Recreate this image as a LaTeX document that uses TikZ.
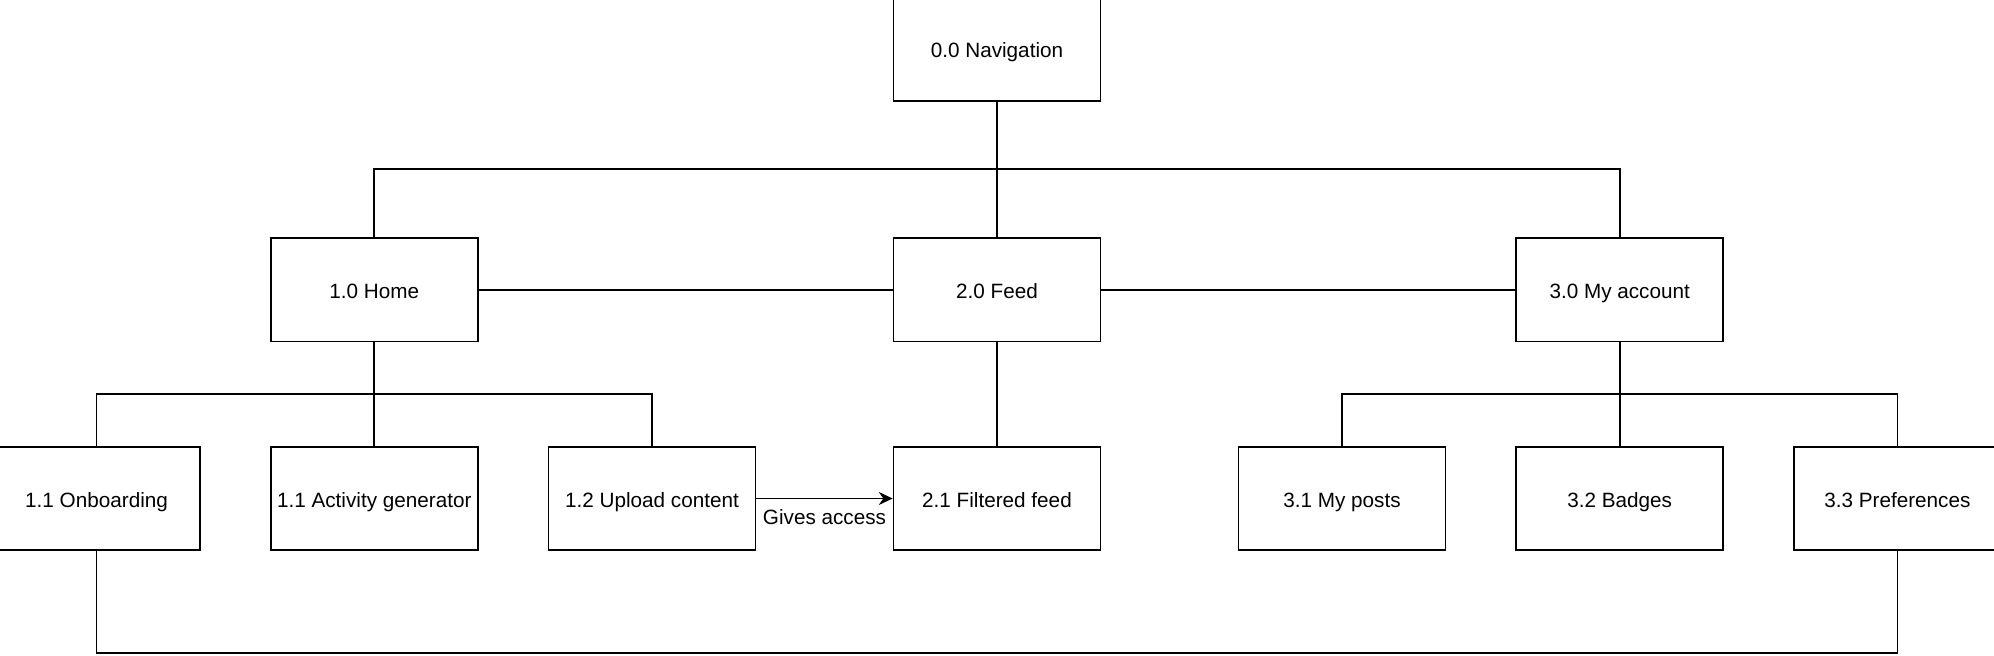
\documentclass[tikz,border=0pt]{standalone}
\usepackage{fontspec}
\setmainfont{Liberation Sans}
\usetikzlibrary{arrows.meta,positioning}

\begin{document}
\begin{tikzpicture}[x=1pt,y=1pt,>={Stealth[length=8pt,width=7.5pt]}]
    \tikzstyle{page}=[rectangle,draw=black,line width=1pt,font=\fontsize{12pt}{14pt}\selectfont,inner
    sep=0pt, align=center,minimum width=120pt,minimum height=60pt,text height=10pt,text depth=0pt]

    \tikzstyle{txt}=[font=\fontsize{12pt}{14pt}\selectfont,inner sep=2pt]
    \tikzstyle{link}=[draw=black,line width=1pt]

    \useasboundingbox (-578,-212.3) rectangle (578,168);

    \node[page](feed_pg){2.0 Feed};
    \node[page](nav_root)[above=78.5pt of feed_pg]{0.0 Navigation};
    \node[page](home_pg)[left=240pt of feed_pg]{1.0 Home};
    \node[page](account_pg)[right=240pt of feed_pg]{3.0 My account};

    \node[page](filtered_pg)[below=60pt of feed_pg]{2.1 Filtered feed};
    \node[page](activity_pg)[below=60pt of home_pg]{1.1 Activity generator};
    \node[page](onboard_pg)[left=40pt of activity_pg]{1.1 Onboarding};
    \node[page](upload_pg)[right=40pt of activity_pg]{1.2 Upload content};
    \node[page](badges_pg)[below=60pt of account_pg]{3.2 Badges};
    \node[page](posts_pg)[left=40pt of badges_pg]{3.1 My posts};
    \node[page](prefs_pg)[right=40pt of badges_pg]{3.3 Preferences};

    \draw[link] (nav_root.south) -- ++(0,-39) -| (home_pg.north);
    \draw[link] (nav_root.south) -- (feed_pg.north);
    \draw[link] (nav_root.south) -- ++(0,-39) -| (account_pg.north);

    \draw[link] (home_pg) -- (feed_pg);
    \draw[link] (feed_pg) -- (account_pg);

    \draw[link] (home_pg.south) -- ++(0,-30) -| (onboard_pg.north);
    \draw[link] (home_pg.south) -- (activity_pg.north);
    \draw[link] (home_pg.south) -- ++(0,-30) -| (upload_pg.north);

    \draw[link] (feed_pg) -- (filtered_pg);

    \draw[link] (account_pg.south) -- ++(0,-30) -| (posts_pg.north);
    \draw[link] (account_pg.south) -- (badges_pg.north);
    \draw[link] (account_pg.south) -- ++(0,-30) -| (prefs_pg.north);

    \draw[link,->] (upload_pg) -- node[txt,below=4pt]{Gives access} (filtered_pg);

    \draw[link] (onboard_pg.south) -- ++(0,-59) -| (prefs_pg.south);
  \end{tikzpicture}
\end{document}
